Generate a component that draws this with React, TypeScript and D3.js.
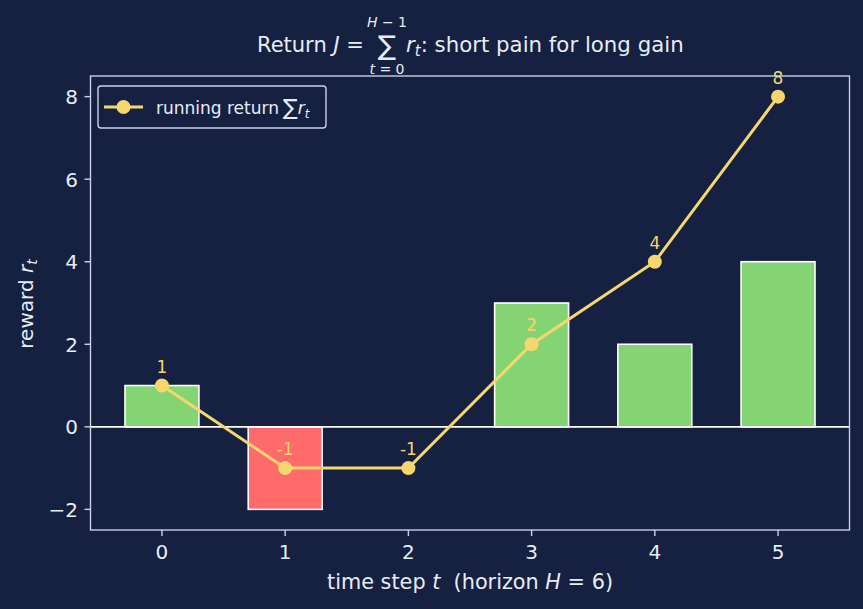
import * as d3 from "d3";

const steps = [0, 1, 2, 3, 4, 5];
const rewards = [1, -2, 0, 3, 2, 4];
const running = [1, -1, -1, 2, 4, 8];
const yTicks = [-2, 0, 2, 4, 6, 8];

const W = 863;
const H = 609;
const bg = "#162040";
const fg = "#e8ecf4";
const spine = "#c9d1e3";
const gold = "#f5d76e";
const green = "#84d474";
const red = "#ff6b6b";
const font = "DejaVu Sans, sans-serif";

export default function App() {
  const x = d3.scaleLinear().domain([-0.58, 5.58]).range([90.5, 849.5]);
  const y = d3.scaleLinear().domain([-2.5, 8.5]).range([530, 76]);
  const bw = x(0.6) - x(0);
  const line = d3
    .line<number>()
    .x((_, i) => x(steps[i]))
    .y((d) => y(d));

  return (
    <svg width={W} height={H} style={{ position: "absolute", left: 0, top: 0 }} fontFamily={font}>
      <rect width={W} height={H} fill={bg} />

      {/* bars */}
      {rewards.map((r, i) => (
        <rect
          key={i}
          x={x(steps[i]) - bw / 2}
          y={y(Math.max(r, 0))}
          width={bw}
          height={Math.abs(y(r) - y(0))}
          fill={r < 0 ? red : green}
          stroke="#ffffff"
          strokeWidth={1.6}
        />
      ))}
      <line x1={x.range()[0]} x2={x.range()[1]} y1={y(0)} y2={y(0)} stroke="#ffffff" strokeWidth={1.8} />

      {/* running return */}
      <path d={line(running) ?? ""} fill="none" stroke={gold} strokeWidth={3} />
      {running.map((v, i) => (
        <g key={i}>
          <circle cx={x(steps[i])} cy={y(v)} r={7} fill={gold} />
          <text x={x(steps[i])} y={y(v) - 13} textAnchor="middle" fill={gold} fontSize={17}>
            {v}
          </text>
        </g>
      ))}

      {/* frame */}
      <rect
        x={x.range()[0]}
        y={y.range()[1]}
        width={x.range()[1] - x.range()[0]}
        height={y.range()[0] - y.range()[1]}
        fill="none"
        stroke={spine}
        strokeWidth={1.4}
      />

      {/* x axis */}
      {steps.map((t) => (
        <g key={t}>
          <line x1={x(t)} x2={x(t)} y1={530} y2={536} stroke={spine} strokeWidth={1.4} />
          <text x={x(t)} y={559} textAnchor="middle" fill={fg} fontSize={20}>
            {t}
          </text>
        </g>
      ))}
      <text x={470} y={589} textAnchor="middle" fill={fg} fontSize={20.8}>
        time step <tspan fontStyle="italic">t</tspan>
        {"\u00a0 (horizon "}
        <tspan fontStyle="italic">H</tspan>
        {" = 6)"}
      </text>

      {/* y axis */}
      {yTicks.map((v) => (
        <g key={v}>
          <line x1={84.5} x2={90.5} y1={y(v)} y2={y(v)} stroke={spine} strokeWidth={1.4} />
          <text x={78} y={y(v) + 7.5} textAnchor="end" fill={fg} fontSize={20}>
            {v < 0 ? `\u2212${-v}` : v}
          </text>
        </g>
      ))}
      <text transform="translate(33,304) rotate(-90)" textAnchor="middle" fill={fg} fontSize={20}>
        reward <tspan fontStyle="italic">r</tspan>
        <tspan fontStyle="italic" fontSize={14} dy={4}>t</tspan>
      </text>

      {/* title */}
      <text x={257} y={52} fill={fg} fontSize={21}>
        Return <tspan fontStyle="italic">J</tspan> =
      </text>
      <text x={387} y={55} textAnchor="middle" fill={fg} fontSize={27}>
        ∑
      </text>
      <text x={387} y={27} textAnchor="middle" fill={fg} fontSize={14}>
        <tspan fontStyle="italic">H</tspan> − 1
      </text>
      <text x={387} y={74} textAnchor="middle" fill={fg} fontSize={14}>
        <tspan fontStyle="italic">t</tspan> = 0
      </text>
      <text x={406} y={52} fill={fg} fontSize={21.3}>
        <tspan fontStyle="italic">r</tspan>
        <tspan fontStyle="italic" fontSize={15} dy={4}>t</tspan>
        <tspan dy={-4}>: short pain for long gain</tspan>
      </text>

      {/* legend */}
      <rect x={98} y={86} width={228} height={42} rx={3} fill={bg} stroke={spine} strokeWidth={1.4} />
      <line x1={104} x2={143} y1={107} y2={107} stroke={gold} strokeWidth={3} />
      <circle cx={123.5} cy={107} r={7} fill={gold} />
      <text x={156} y={114} fill={fg} fontSize={17}>
        running return
        <tspan fontSize={22} dx={4} dy={1}>∑</tspan>
        <tspan fontStyle="italic" dy={-1}>r</tspan>
        <tspan fontStyle="italic" fontSize={12} dy={4}>t</tspan>
      </text>
    </svg>
  );
}
